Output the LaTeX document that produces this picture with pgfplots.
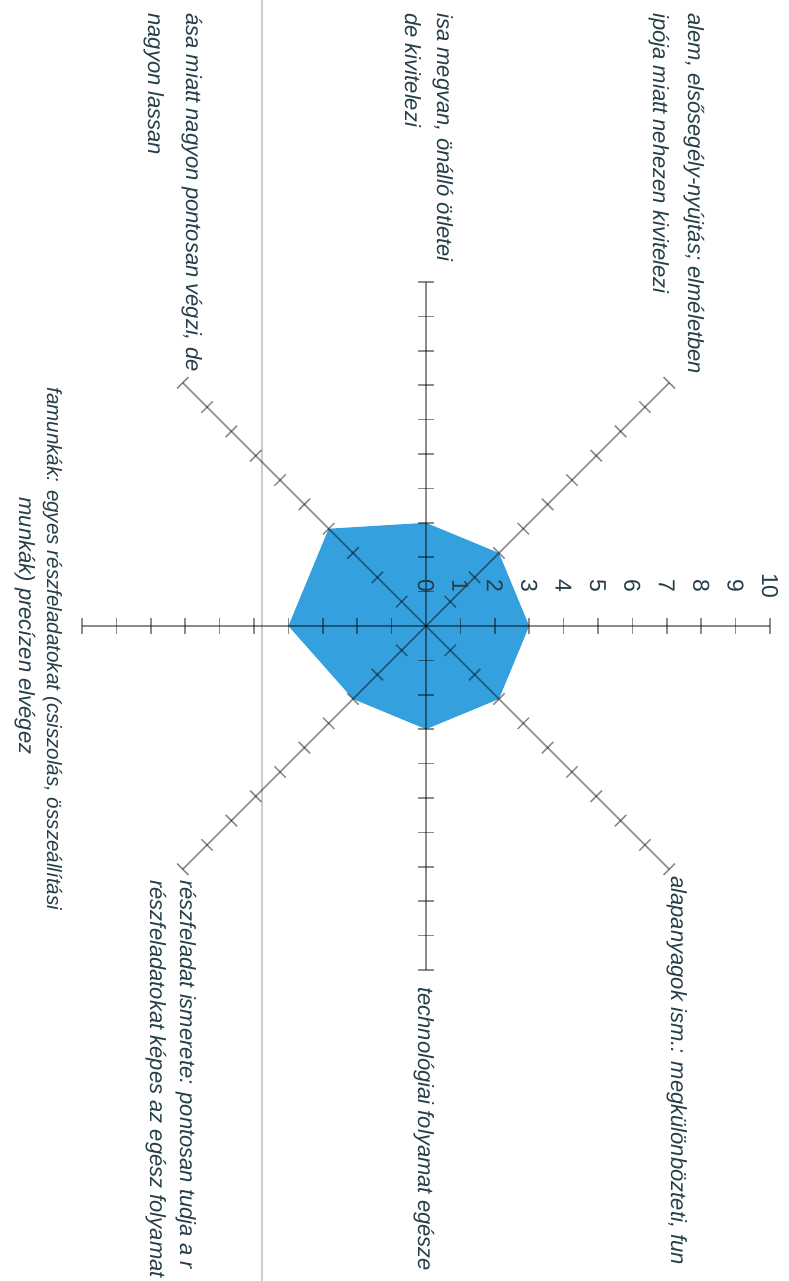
\documentclass[border=0pt]{standalone}
\usepackage{fontspec}
\setmainfont{Liberation Sans}
\usepackage{pgfplots}
\pgfplotsset{compat=1.18}
\usepgfplotslibrary{polar}
\usetikzlibrary{calc}
\definecolor{radarfill}{RGB}{52,160,222}
\definecolor{txt}{RGB}{38,62,72}
\begin{document}
\begin{tikzpicture}
  % page frame: 788 x 1281 px, 1 px = 0.5 pt
  \path[use as bounding box] (0,0) rectangle (394pt,640.5pt);
  \clip (0,0) rectangle (394pt,640.5pt);
  \draw[line width=0.7pt, black!20] (131pt,0) -- (131pt,640.5pt);

  \begin{polaraxis}[
      at={(213pt,327.5pt)}, anchor=center,
      width=344pt, height=344pt, scale only axis,
      xmin=0, xmax=360, ymin=0, ymax=10,
      hide axis, clip=false
    ]
    \addplot[fill=radarfill, draw=none] coordinates {
      (0,3) (45,3) (90,3) (135,4) (180,4) (225,3) (270,3) (315,3) (360,3)
    };

    \pgfplotsinvokeforeach{0,45,90,135,180,225,270,315}{
      \addplot[black, draw opacity=0.45, line width=0.75pt] coordinates {(#1,0) (#1,10)};
      \addplot[black, only marks, mark=|, mark size=4pt,
               mark options={rotate=#1, line width=0.75pt, draw opacity=0.45}] coordinates {
        (#1,1) (#1,2) (#1,3) (#1,4) (#1,5) (#1,6) (#1,7) (#1,8) (#1,9) (#1,10)
      };
    }

    \pgfplotsinvokeforeach{0,...,10}{
      \node[txt, rotate=-90, font=\fontsize{11.5}{14}\selectfont]
        at ($(axis cs:0,#1)+(0pt,20pt)$) {#1};
    }
  \end{polaraxis}

  \tikzset{lbl/.style={txt, rotate=-90, anchor=base west, inner sep=0pt,
      font=\fontsize{11}{14}\selectfont\itshape}}
  % up-right spoke
  \node[lbl] at (344pt,634pt) {alem, elsősegély-nyújtás; elméletben};
  \node[lbl] at (326.5pt,634pt) {ipója miatt nehezen kivitelezi};
  % up spoke
  \node[lbl] at (218.5pt,634pt) {isa megvan, önálló ötletei};
  \node[lbl] at (202.5pt,634pt) {de kivitelezi};
  % up-left spoke
  \node[lbl] at (93pt,634pt) {ása miatt nagyon pontosan végzi, de};
  \node[lbl] at (74pt,634pt) {nagyon lassan};
  % left spoke
  \node[lbl, font=\fontsize{10.3}{14}\selectfont\itshape] at (23.5pt,447pt) {famunkák: egyes részfeladatokat (csiszolás, összeállítási};
  \node[lbl, anchor=base] at (9.5pt,327.5pt) {munkák) precízen elvégez};
  % down-left spoke
  \node[lbl] at (90pt,200.5pt) {részfeladat ismerete: pontosan tudja a r};
  \node[lbl] at (75pt,200.5pt) {részfeladatokat képes az egész folyamat};
  % down spoke
  \node[lbl] at (209pt,147pt) {technológiai folyamat egésze};
  % down-right spoke
  \node[lbl] at (335.5pt,202.5pt) {alapanyagok ism.: megkülönbözteti, fun};
\end{tikzpicture}
\end{document}
